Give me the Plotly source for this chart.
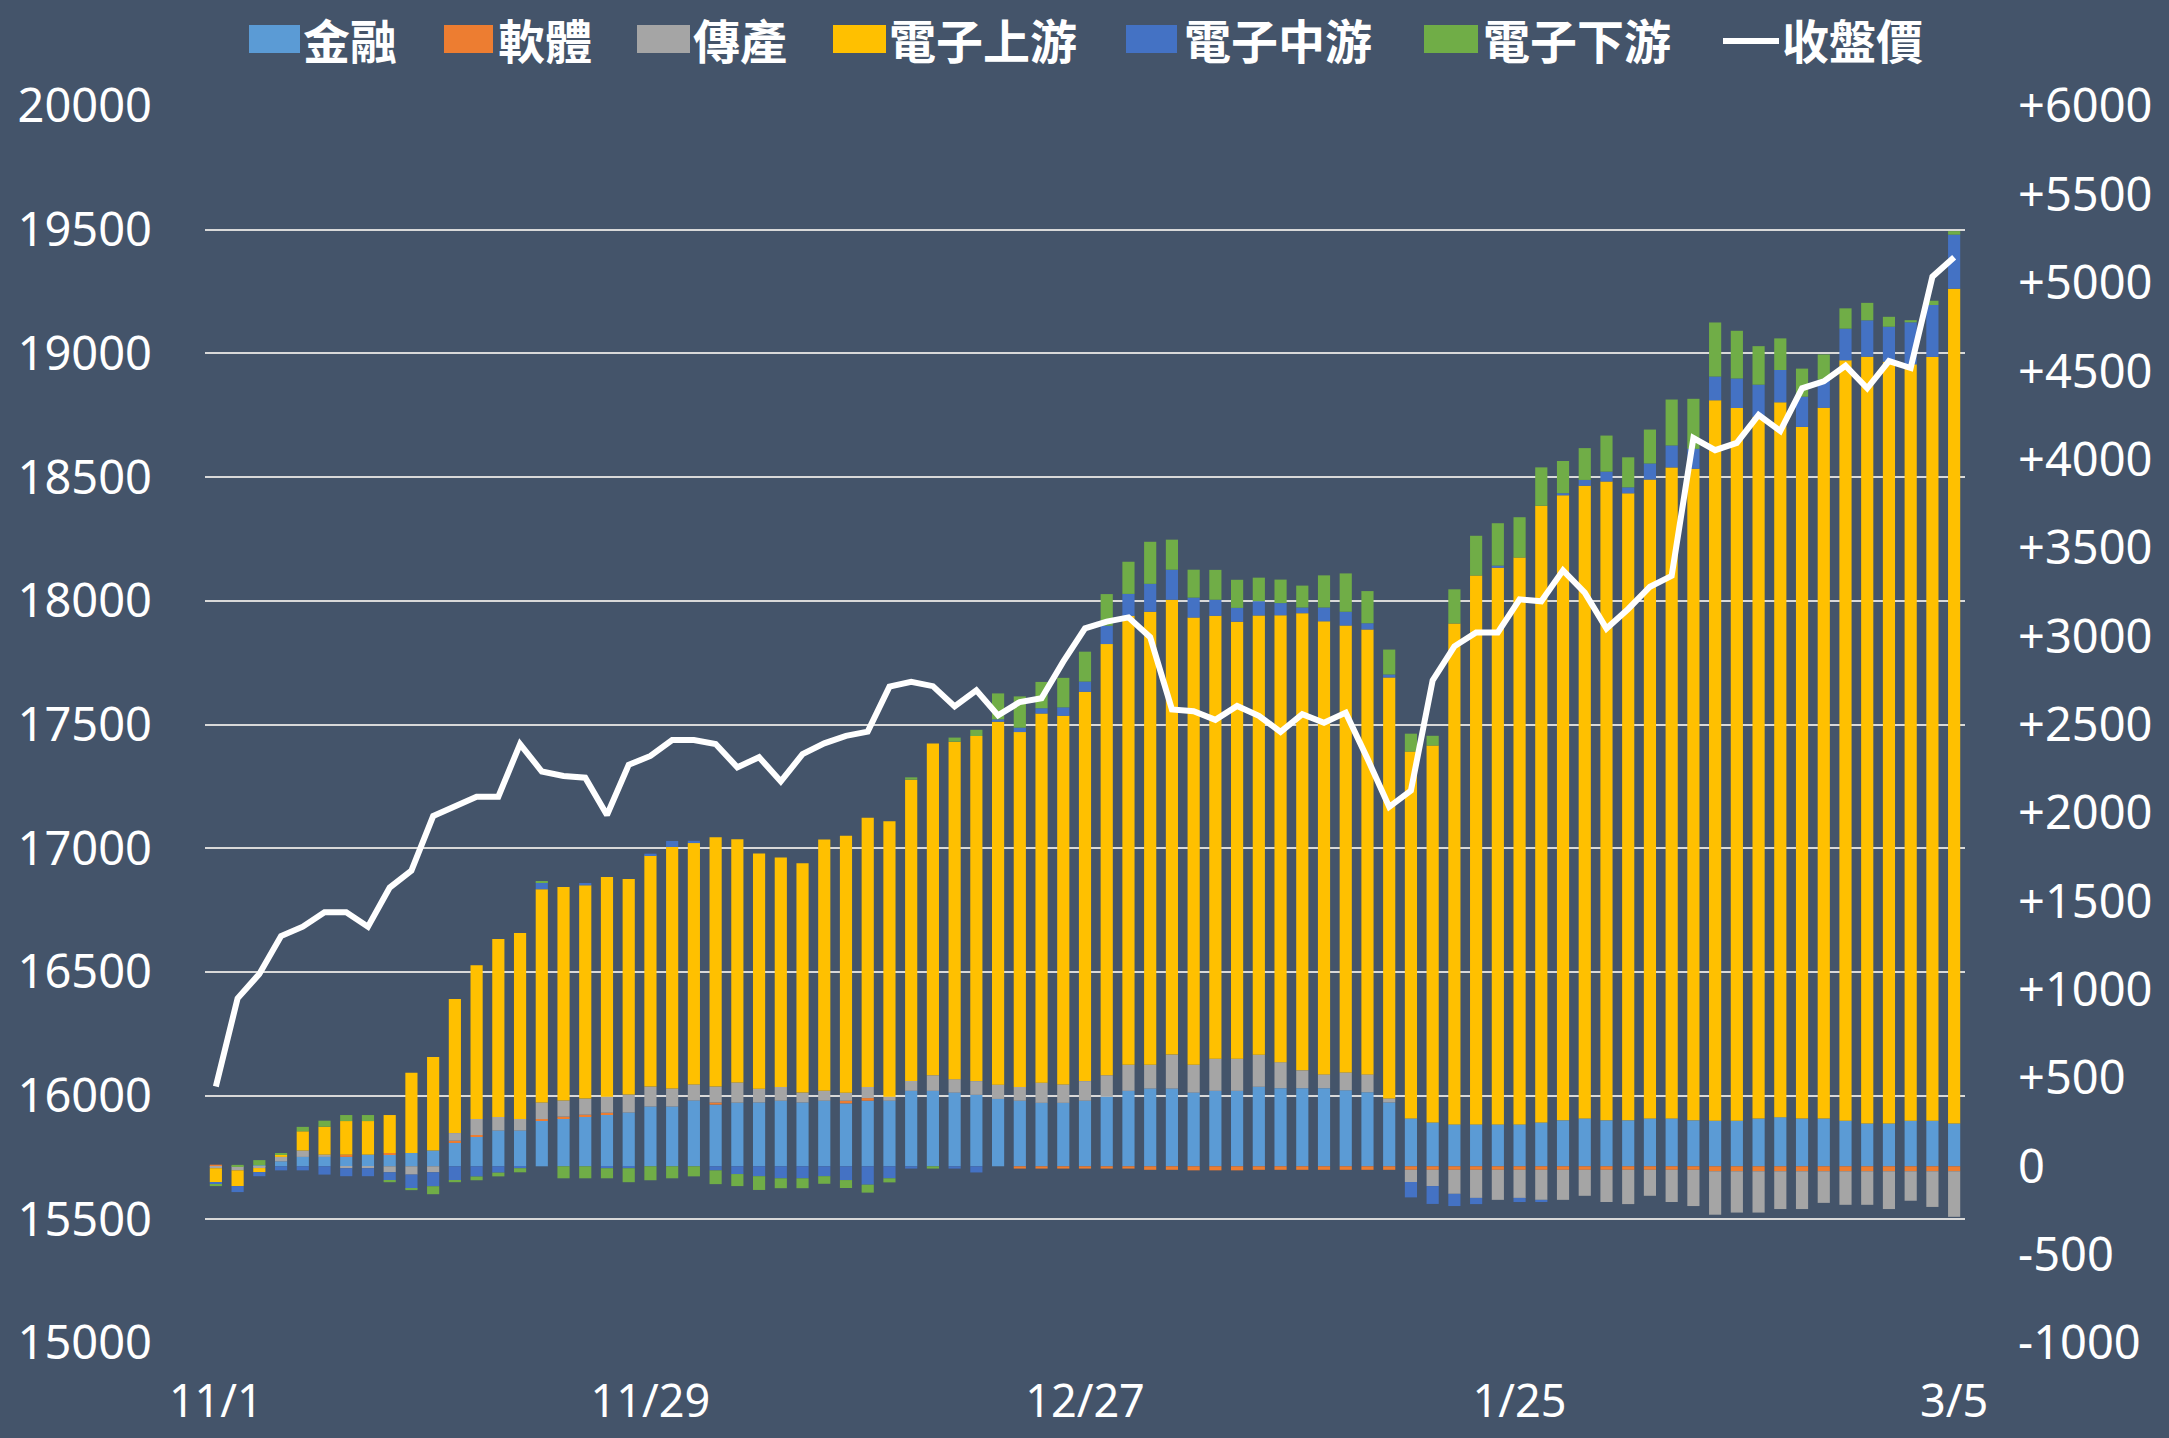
import plotly.graph_objects as go

dates = [
    "11/1", "11/2", "11/3", "11/6", "11/7", "11/8", "11/9", "11/10", "11/13", "11/14",
    "11/15", "11/16", "11/17", "11/20", "11/21", "11/22", "11/23", "11/24", "11/27", "11/28",
    "11/29", "11/30", "12/1", "12/4", "12/5", "12/6", "12/7", "12/8", "12/11", "12/12",
    "12/13", "12/14", "12/15", "12/18", "12/19", "12/20", "12/21", "12/22", "12/25", "12/26",
    "12/27", "12/28", "12/29", "1/2", "1/3", "1/4", "1/5", "1/8", "1/9", "1/10",
    "1/11", "1/12", "1/15", "1/16", "1/17", "1/18", "1/19", "1/22", "1/23", "1/24",
    "1/25", "1/26", "1/29", "1/30", "1/31", "2/1", "2/2", "2/5", "2/15", "2/16",
    "2/19", "2/20", "2/21", "2/22", "2/23", "2/26", "2/27", "2/29", "3/1", "3/4",
    "3/5",
]

finance = [0, 0, 5, 28, 53, 53, 53, 66, 64, 75, 89, 132, 166, 202, 202, 258, 270, 281, 292, 304,
           338, 338, 372, 349, 360, 361, 371, 361, 371, 356, 371, 371, 427, 427, 417, 404, 381, 371, 359, 359,
           371, 394, 427, 440, 440, 417, 427, 427, 450, 442, 442, 442, 430, 419, 361, 271, 248, 237, 237, 237,
           237, 248, 260, 271, 260, 260, 271, 271, 260, 258, 258, 270, 278, 270, 270, 258, 242, 242, 258, 258,
           242]
software = [9, 0, 0, 0, 0, 0, 13, 0, 11, 0, 0, 13, 11, 0, 0, 9, 11, 11, 11, 0,
            0, 0, 0, 12, 0, 0, 0, 0, 0, 15, 15, 0, 0, 0, 0, 0, 0, -13, -13, -13,
            -13, -13, -13, -20, -20, -23, -23, -23, -20, -20, -20, -20, -20, -20, -20, -20, -20, -20, -20, -20,
            -20, -20, -20, -20, -20, -20, -20, -20, -20, -28, -28, -28, -28, -28, -28, -28, -28, -28, -28, -28,
            -28]
traditional = [-11, -23, -10, 25, 36, 13, -11, -11, -34, -47, -34, 43, 91, 77, 66, 94, 91, 91, 91, 102,
               113, 102, 91, 90, 114, 78, 78, 56, 56, 45, 63, 23, 56, 88, 76, 78, 81, 78, 114, 104,
               111, 121, 147, 134, 192, 157, 182, 182, 181, 147, 101, 78, 101, 101, 23, -69, -92, -136, -159, -170,
               -159, -170, -170, -147, -182, -194, -147, -182, -205, -246, -234, -234, -214, -214, -179, -190, -190, -214, -167, -202,
               -258]
elec_up = [-79, -89, -23, 13, 109, 158, 190, 190, 215, 455, 530, 758, 869, 1007, 1052, 1207, 1209, 1207, 1243, 1220,
           1307, 1367, 1366, 1411, 1376, 1331, 1298, 1298, 1422, 1455, 1523, 1559, 1705, 1877, 1910, 1953, 2054, 2008, 2089, 2086,
           2203, 2440, 2541, 2564, 2574, 2531, 2506, 2473, 2486, 2529, 2587, 2564, 2529, 2518, 2382, 2076, 2133, 2835, 3106, 3150,
           3208, 3490, 3537, 3580, 3615, 3548, 3615, 3684, 3687, 4077, 4033, 3970, 4045, 3914, 4022, 4303, 4339, 4311, 4280, 4322,
           4724]
elec_mid = [-11, -34, -23, -23, -23, -47, -45, -45, -45, -79, -79, -79, -58, -36, -11, 38, 0, 13, -11, -11,
            11, 34, 13, -23, -44, -56, -68, -68, -56, -78, -104, -68, -13, 0, -13, -35, 13, 25, 30, 48,
            58, 104, 124, 158, 170, 113, 91, 78, 81, 69, 32, 78, 78, 35, 17, -87, -101, -69, -35, 12,
            -23, -12, 12, 33, 56, 34, 91, 124, 113, 134, 167, 183, 183, 171, 159, 179, 206, 198, 238, 294,
            306]
elec_down = [-11, 8, 30, 9, 25, 34, 34, 34, -11, -9, -45, -11, -21, -21, -23, 8, -68, -68, -57, -79,
             -79, -68, -57, -78, -68, -78, -56, -56, -43, -45, -45, -23, 13, -13, 23, 35, 147, 177, 149, 167,
             169, 179, 182, 238, 170, 158, 169, 159, 133, 133, 124, 182, 217, 182, 141, 101, 55, 193, 225, 240,
             228, 217, 182, 180, 204, 170, 192, 260, 283, 306, 270, 218, 179, 159, 143, 115, 99, 56, 12, 24,
             20]
close = [16037, 16393, 16492, 16645, 16683, 16741, 16741, 16683, 16841, 16909, 17130, 17171, 17208, 17208, 17421, 17310, 17292, 17285, 17134, 17337,
         17373, 17437, 17437, 17421, 17327, 17368, 17270, 17380, 17424, 17454, 17471, 17653, 17673, 17655, 17573, 17638, 17537, 17591, 17606, 17754,
         17889, 17916, 17933, 17853, 17561, 17554, 17519, 17575, 17535, 17470, 17542, 17507, 17548, 17362, 17167, 17233, 17678, 17816, 17872, 17872,
         18006, 17998, 18123, 18033, 17888, 17967, 18057, 18101, 18658, 18609, 18638, 18751, 18686, 18859, 18887, 18950, 18859, 18969, 18941, 19310,
         19389]

series_names = ["金融", "軟體", "傳產", "電子上游", "電子中游", "電子下游"]
series_values = [finance, software, traditional, elec_up, elec_mid, elec_down]
series_colors = ["#5B9BD5", "#ED7D31", "#A5A5A5", "#FFC000", "#4472C4", "#70AD47"]
line_name = "收盤價"

x_ticks = ["11/1", "11/29", "12/27", "1/25", "3/5"]
left_tickvals = list(range(15000, 20001, 500))
left_ticktext = [str(v) for v in left_tickvals]
right_tickvals = list(range(-1000, 6001, 500))
right_ticktext = [("+" + str(v)) if v > 0 else str(v) for v in right_tickvals]

BG = "#44546A"
W, H = 2169, 1438
L_M, R_M, T_M, B_M = 205, 204, 106, 95
PW, PH = W - L_M - R_M, H - T_M - B_M

def px_x(X):
    return (X - L_M) / PW

def px_y(Y):
    return (H - B_M - Y) / PH

fig = go.Figure()
for name, vals, col in zip(series_names, series_values, series_colors):
    fig.add_trace(go.Bar(x=dates, y=vals, name=name, marker=dict(color=col, line=dict(width=0)),
                         yaxis="y", showlegend=False))
fig.add_trace(go.Scatter(x=dates, y=close, name=line_name, mode="lines",
                         line=dict(color="white", width=6), yaxis="y2", showlegend=False))

tick_font = dict(family="Noto Sans, Open Sans, sans-serif", size=47, color="white")
x_tick_font = dict(family="Noto Sans, Open Sans, sans-serif", size=45, color="white")

fig.update_layout(
    width=W, height=H,
    margin=dict(l=L_M, r=R_M, t=T_M, b=B_M, autoexpand=False),
    paper_bgcolor=BG, plot_bgcolor=BG,
    barmode="relative", bargap=0.44,
    xaxis=dict(type="category", tickmode="array", tickvals=x_ticks, ticktext=x_ticks,
               showgrid=False, zeroline=False, showline=False, ticks="",
               tickfont=x_tick_font, ticklabelstandoff=28, tickangle=0),
    yaxis=dict(side="right", range=[-1000, 6000], tickmode="array", tickvals=right_tickvals,
               ticktext=right_ticktext, showgrid=False, zeroline=False, showline=False, ticks="",
               tickfont=tick_font, ticklabelstandoff=52),
    yaxis2=dict(side="left", overlaying="y", range=[15000, 20000], tickmode="array",
                tickvals=left_tickvals, ticktext=left_ticktext,
                showgrid=True, gridcolor="#D9D9D9", gridwidth=2, zeroline=False, showline=False, ticks="",
                tickfont=tick_font, ticklabelstandoff=52),
)

# Legend (manual, to match wide keys)
legend_items = [
    (249, 300, 305), (444, 493, 500), (637, 690, 695), (833, 886, 891),
    (1126, 1177, 1186), (1424, 1478, 1485),
]
shapes = []
annotations = []
legend_font = dict(family="Noto Sans CJK TC", size=47, color="white")
for (x0, x1, tx), name, col in zip(legend_items, series_names, series_colors):
    shapes.append(dict(type="rect", xref="paper", yref="paper",
                       x0=px_x(x0), x1=px_x(x1), y0=px_y(53), y1=px_y(25),
                       fillcolor=col, line=dict(width=0)))
    annotations.append(dict(xref="paper", yref="paper", x=px_x(tx - 4), y=px_y(38),
                            xanchor="left", yanchor="middle", showarrow=False,
                            text="<b>" + name + "</b>", font=legend_font))
shapes.append(dict(type="line", xref="paper", yref="paper",
                   x0=px_x(1723), x1=px_x(1779), y0=px_y(41), y1=px_y(41),
                   line=dict(color="white", width=6)))
annotations.append(dict(xref="paper", yref="paper", x=px_x(1780), y=px_y(38),
                        xanchor="left", yanchor="middle", showarrow=False,
                        text="<b>" + line_name + "</b>", font=legend_font))
fig.update_layout(shapes=shapes, annotations=annotations)

fig.write_html("out.html", config={"displayModeBar": False},
               post_script="document.body.style.margin='0';document.body.style.background='" + BG + "';")
